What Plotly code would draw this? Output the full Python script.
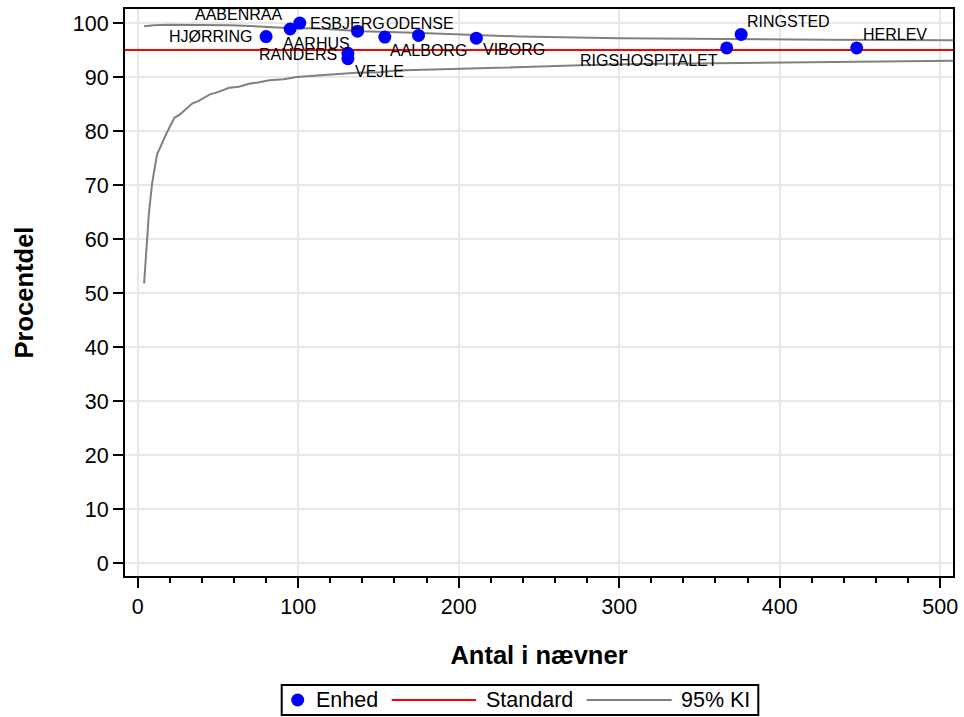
import plotly.graph_objects as go

# Units: name, denominator (n) and percentage
units = ["HJØRRING", "AABENRAA", "ESBJERG", "AARHUS", "AALBORG", "ODENSE",
         "VIBORG", "RANDERS", "VEJLE", "RINGSTED", "RIGSHOSPITALET", "HERLEV"]
denominators = [80, 95, 101, 137, 154, 175, 211, 131, 131, 376, 367, 448]
percentages = [97.5, 98.9, 100.0, 98.5, 97.4, 97.7, 97.2, 94.4, 93.4, 97.9, 95.4, 95.4]

# Label placement around each marker: (x anchor, pixel shift x, pixel shift y)
label_style = [("right", -13, 0), ("right", -8, 14), ("left", 10, 0),
               ("right", -8, -12), ("left", 5, -13), ("center", 1, 12),
               ("left", 7, -11), ("right", -11, -1), ("left", 7, -13),
               ("left", 6, 13), ("right", -9, -13), ("left", 6, 13)]

# Standard (target) level
standard = 95

# 95% confidence limits around the standard
ci_lower_n = [4, 7, 9, 12, 18, 23, 26, 34, 38, 45, 50, 57, 63, 70, 75, 82, 91, 99,
              112, 124, 136, 151, 161, 224, 276, 313, 417, 508]
ci_lower_p = [51.8, 64.8, 70.3, 75.6, 79.6, 82.5, 83.0, 85.1, 85.6, 86.8, 87.2, 88.0,
              88.2, 88.8, 89.0, 89.4, 89.6, 90.0, 90.3, 90.6, 90.8, 90.9, 91.2, 91.7,
              92.2, 92.4, 92.7, 93.0]
ci_upper_n = [4, 10, 20, 40, 58, 70, 78, 93, 112, 140, 172, 238, 300, 363, 430, 508]
ci_upper_p = [99.4, 99.6, 99.7, 99.7, 99.6, 99.45, 99.3, 99.1, 99.0, 98.5, 98.2, 97.5,
              97.2, 97.0, 96.9, 96.8]

x_range = [-7.9, 508]
y_range = [-2.4, 102.6]
x_ticks = [0, 100, 200, 300, 400, 500]
y_ticks = [0, 10, 20, 30, 40, 50, 60, 70, 80, 90, 100]

FONT = "Liberation Sans, Arial, sans-serif"
BLUE = "#0000ff"
RED = "#ff0000"
GRAY = "#808080"

W, H = 964, 717
M_L, M_R, M_T, M_B = 125, 11, 9, 141
PW, PH = W - M_L - M_R, H - M_T - M_B


def px_x(px):
    return (px - M_L) / PW


def px_y(py):
    return (H - M_B - py) / PH


fig = go.Figure()

fig.add_trace(go.Scatter(x=ci_lower_n, y=ci_lower_p, mode="lines",
                         line=dict(color=GRAY, width=2), showlegend=False,
                         hoverinfo="skip"))
fig.add_trace(go.Scatter(x=ci_upper_n, y=ci_upper_p, mode="lines",
                         line=dict(color=GRAY, width=2), showlegend=False,
                         hoverinfo="skip"))
fig.add_trace(go.Scatter(x=x_range, y=[standard, standard], mode="lines",
                         line=dict(color=RED, width=2), showlegend=False,
                         hoverinfo="skip"))
fig.add_trace(go.Scatter(x=denominators, y=percentages, mode="markers",
                         text=units,
                         marker=dict(color=BLUE, size=13, line=dict(width=0)),
                         showlegend=False, cliponaxis=False))

axis_common = dict(
    showline=True, mirror=True, linecolor="black", linewidth=2,
    ticks="outside", ticklen=10, tickwidth=2, tickcolor="black",
    showgrid=True, gridcolor="#e8e8e8", gridwidth=2, zeroline=False,
    tickfont=dict(family=FONT, size=21.5, color="black"),
)

fig.update_xaxes(range=x_range, tickvals=x_ticks,
                 minor=dict(ticks="outside", ticklen=5, tickwidth=2,
                            tickcolor="black", dtick=20, tick0=0, showgrid=False),
                 title=dict(text="Antal i nævner", standoff=28,
                            font=dict(family=FONT, size=25.5, color="black",
                                      weight="bold")),
                 **axis_common)
fig.update_yaxes(range=y_range, tickvals=y_ticks,
                 title=dict(text="Procentdel", standoff=32,
                            font=dict(family=FONT, size=25.5, color="black",
                                      weight="bold")),
                 **axis_common)

annotations = []

# Unit labels next to their markers
for name, n, p, (anchor, sx, sy) in zip(units, denominators, percentages, label_style):
    annotations.append(dict(text=name, x=n, y=p, xref="x", yref="y",
                            xanchor=anchor, yanchor="middle", xshift=sx, yshift=sy,
                            showarrow=False, borderpad=0, borderwidth=0,
                            font=dict(family=FONT, size=16, color="black")))

# Legend box drawn in pixel-derived paper coordinates
leg_top, leg_bot = 685, 715
leg_mid = (leg_top + leg_bot) / 2
shapes = [
    dict(type="rect", xref="paper", yref="paper",
         x0=px_x(281.7), x1=px_x(758.3), y0=px_y(leg_bot), y1=px_y(leg_top),
         line=dict(color="black", width=2), fillcolor="white", layer="above"),
    dict(type="circle", xref="paper", yref="paper", xsizemode="pixel",
         ysizemode="pixel", xanchor=px_x(297.7), yanchor=px_y(leg_mid),
         x0=-6.5, x1=6.5, y0=-6.5, y1=6.5, fillcolor=BLUE,
         line=dict(width=0), layer="above"),
    dict(type="line", xref="paper", yref="paper",
         x0=px_x(391.7), x1=px_x(476), y0=px_y(leg_mid), y1=px_y(leg_mid),
         line=dict(color=RED, width=2), layer="above"),
    dict(type="line", xref="paper", yref="paper",
         x0=px_x(586.7), x1=px_x(671.7), y0=px_y(leg_mid), y1=px_y(leg_mid),
         line=dict(color=GRAY, width=2), layer="above"),
]
for text, left in [("Enhed", 316), ("Standard", 486), ("95% KI", 681)]:
    annotations.append(dict(text=text, xref="paper", yref="paper",
                            x=px_x(left), y=px_y(leg_mid), xanchor="left",
                            yanchor="middle", showarrow=False, borderpad=0,
                            borderwidth=0,
                            font=dict(family=FONT, size=21.5, color="black")))

fig.update_layout(
    width=W, height=H,
    margin=dict(l=M_L, r=M_R, t=M_T, b=M_B, autoexpand=False),
    paper_bgcolor="white", plot_bgcolor="white",
    font=dict(family=FONT, color="black"),
    shapes=shapes, annotations=annotations,
    showlegend=False,
)

fig.write_html("out.html")
